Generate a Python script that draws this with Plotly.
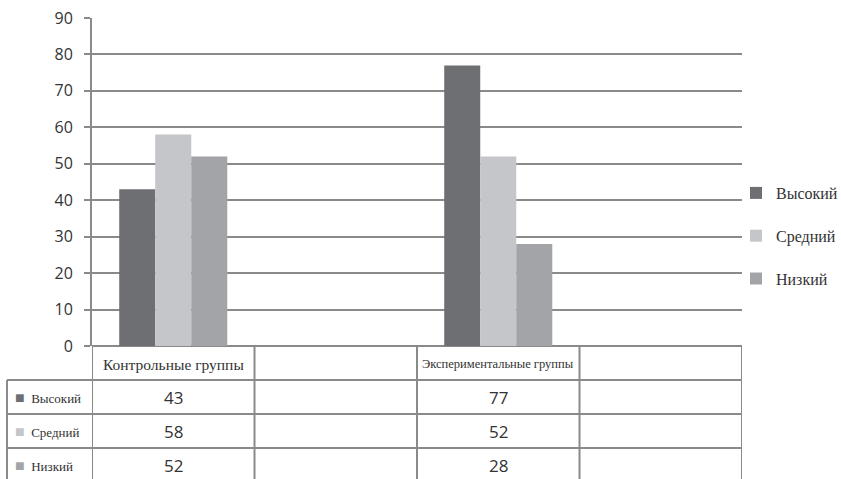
import plotly.graph_objects as go

# ---- data ----
categories = ["Контрольные группы", "Экспериментальные группы"]
series_names = ["Высокий", "Средний", "Низкий"]
high = [43, 77]
mid = [58, 52]
low = [52, 28]
y_ticks = [0, 10, 20, 30, 40, 50, 60, 70, 80, 90]

colors = ["#6e6f73", "#c5c6c9", "#a3a4a7"]
series_values = [high, mid, low]

# four slots on the category axis: group, blank, group, blank
slots = [categories[0], " ", categories[1], "  "]

W, H = 841, 479
plot_left, plot_right, plot_top, plot_bottom = 92, 742, 18, 346
row_h = 34
table_left = 7
line_col = "#8a8a8a"

def px(x):
    return x / W

def py(y):
    return 1 - y / H

fig = go.Figure()
for name, vals, c in zip(series_names, series_values, colors):
    yv = [vals[0], None, vals[1], None]
    fig.add_trace(go.Bar(
        x=slots, y=yv, name=name, marker=dict(color=c, line=dict(width=0)),
        legendgroup=name, hoverinfo="skip",
    ))

shapes = []
annotations = []

# horizontal table lines (rows)
for i in range(1, 5):
    yy = plot_bottom + i * row_h
    shapes.append(dict(type="line", xref="paper", yref="paper",
                       x0=px(table_left), x1=px(plot_right), y0=py(yy), y1=py(yy),
                       line=dict(color=line_col, width=2)))
# vertical lines at category boundaries
for b in [-0.5, 0.5, 1.5, 2.5, 3.5]:
    shapes.append(dict(type="line", xref="x", yref="paper",
                       x0=b, x1=b, y0=py(plot_bottom), y1=py(plot_bottom + 5 * row_h),
                       line=dict(color=line_col, width=2)))
# left border of the label column
shapes.append(dict(type="line", xref="paper", yref="paper",
                   x0=px(table_left), x1=px(table_left),
                   y0=py(plot_bottom + row_h), y1=py(plot_bottom + 5 * row_h),
                   line=dict(color=line_col, width=2)))

# header texts
header_sizes = [15.5, 12.5]
for cat, idx, fs in zip(categories, [0, 2], header_sizes):
    annotations.append(dict(xref="x", yref="paper", x=idx, y=py(plot_bottom + row_h / 2 + 1),
                            text=cat, showarrow=False, xanchor="center", yanchor="middle",
                            font=dict(family="Liberation Serif", size=fs, color="#333333")))

# rows
for r, (name, vals, c) in enumerate(zip(series_names, series_values, colors)):
    yc = py(plot_bottom + row_h * (r + 1.5))
    annotations.append(dict(xref="paper", yref="paper", x=px(table_left + 6), y=yc,
                            xanchor="left", yanchor="middle", showarrow=False,
                            text=f"<span style='color:{c};font-size:16px'>■</span>  {name}",
                            font=dict(family="Liberation Serif", size=13, color="#333333")))
    for v, idx in zip(vals, [0, 2]):
        annotations.append(dict(xref="x", yref="paper", x=idx, y=yc, text=str(v),
                                showarrow=False, xanchor="center", yanchor="middle",
                                font=dict(family="Open Sans", size=17, color="#333333")))

fig.update_layout(
    width=W, height=H,
    margin=dict(l=0, r=0, t=0, b=0, autoexpand=False),
    paper_bgcolor="white", plot_bgcolor="white",
    barmode="group", bargap=0.335, bargroupgap=0,
    showlegend=True,
    legend=dict(x=px(736), y=py(236), xanchor="left", yanchor="middle",
                font=dict(family="Liberation Serif", size=16, color="#333333"),
                tracegroupgap=19, traceorder="grouped", bgcolor="rgba(0,0,0,0)",
                itemwidth=30),
    xaxis=dict(domain=[px(plot_left), px(plot_right)], type="category",
               categoryarray=slots, categoryorder="array",
               showticklabels=False, showgrid=False, zeroline=False, showline=False,
               range=[-0.5, 3.5], fixedrange=True, automargin=False),
    yaxis=dict(domain=[py(plot_bottom), py(plot_top)], range=[0, 90],
               tickvals=y_ticks, ticks="outside", ticklen=6, tickwidth=2, tickcolor=line_col,
               showgrid=True, gridcolor=line_col, gridwidth=2,
               zeroline=True, zerolinecolor=line_col, zerolinewidth=2,
               showline=True, linecolor=line_col, linewidth=2,
               ticklabelstandoff=8, automargin=False,
               tickfont=dict(family="Open Sans", size=16, color="#333333")),
    shapes=shapes, annotations=annotations,
)

fig.write_html("out.html")
